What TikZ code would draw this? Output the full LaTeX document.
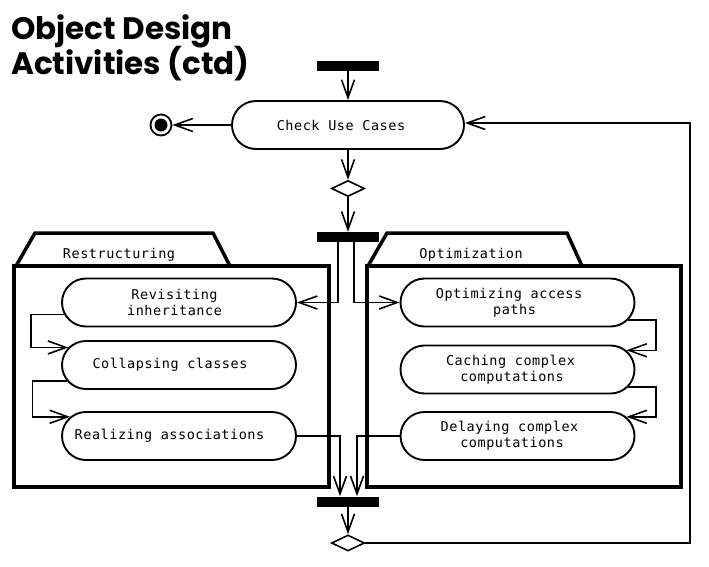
\documentclass[tikz,border=0pt]{standalone}
\usepackage{fontspec}
\setmainfont{DejaVu Sans}
\newfontfamily\titlefont{Poppins}
\newfontfamily\monofont{DejaVu Sans Mono}[LetterSpace=4]
\newcommand{\actfont}{\monofont\fontsize{13.5}{16}\selectfont}
\newcommand{\padr}[1]{\makebox[#1pt]{}}
\usetikzlibrary{shapes.misc,shapes.geometric,arrows.meta}
\begin{document}
\begin{tikzpicture}[x=1pt,y=-1pt,
  act/.style={rounded rectangle, draw, line width=1.9pt, minimum width=234pt, minimum height=48pt, inner sep=0pt, font=\actfont, align=center, fill=white},
  arr/.style={line width=1.6pt, -{Straight Barb[length=18pt,width=13pt,line width=1.6pt]}},
  forkbar/.style={fill=black, minimum width=62pt, minimum height=10pt, inner sep=0pt},
  decision/.style={diamond, draw, line width=1.6pt, minimum width=33pt, minimum height=16pt, inner sep=0pt, fill=white},
  pkg/.style={draw, line width=3.5pt, inner sep=0pt},
  pkgtab/.style={line width=3.5pt, line join=miter},
  pkglabel/.style={font=\actfont, inner sep=0pt},
  titletext/.style={anchor=base west, inner sep=0pt, font=\titlefont\bfseries\fontsize{31}{36}\selectfont}
]
\useasboundingbox (0,0) rectangle (709,566);

% title
\node[titletext] (t1) at (11,39) {Object Design};
\node[titletext] (t2) at (11,74) {Activities (ctd)};

% packages
\node[pkg, minimum width=315pt, minimum height=221pt] (restr) at (171.5,376.5) {};
\draw[pkgtab] (16,266) -- (35,233) -- (213,233) -- (230,266);
\node[pkglabel] (restrlbl) at (119,255) {Restructuring};

\node[pkg, minimum width=314pt, minimum height=221pt] (optpkg) at (524,376.5) {};
\draw[pkgtab] (368,266) -- (387,233) -- (567,233) -- (582,266);
\node[pkglabel] (optlbl) at (471,255) {Optimization};

% main flow
\node[forkbar] (bar1) at (348,65.5) {};
\node[act, minimum width=232pt] (check) at (348,125) {Check Use Cases\padr{14}};
\node[circle, draw, line width=1.8pt, minimum size=21pt, inner sep=0pt,
      path picture={\fill (path picture bounding box.center) circle (6.5pt);}] (final) at (161,125) {};
\node[decision] (d1) at (348,188.5) {};
\node[forkbar] (bar2) at (348,237) {};

% restructuring activities
\node[act] (rev) at (179,302.5) {Revisiting\padr{9}\\inheritance\padr{9}};
\node[act] (col) at (179,365) {Collapsing classes\padr{18}};
\node[act] (real) at (179,436) {Realizing associations\padr{19}};

% optimization activities
\node[act] (opt) at (517.5,302.5) {Optimizing access\padr{17}\\paths\padr{6}};
\node[act] (cach) at (517.5,369.5) {Caching complex\padr{14}\\computations\padr{11}};
\node[act] (del) at (517.5,436) {Delaying complex\padr{16}\\computations\padr{11}};

\node[forkbar] (bar3) at (348,501.5) {};
\node[decision] (d2) at (348,543) {};
\coordinate (loopx) at (690,300);

% connectors
\draw[arr] (bar1.south) -- (check.north);
\draw[arr] (check.west) -- (final);
\draw[arr] (check.south) -- (d1.north);
\draw[arr] (d1.south) -- (bar2.north);
\draw[arr] ([xshift=-10pt]bar2.south) |- (rev.east);
\draw[arr] ([xshift=6pt]bar2.south) |- (opt.west);
\draw[arr] (rev.186) -- ++(-33,0) |- (col.171);
\draw[arr] (col.188) -- ++(-34,0) |- (real.170);
\draw[arr] (opt.-9) -- ++(28,0) |- (cach.10);
\draw[arr] (cach.-9) -- ++(28,0) |- (del.10);
\draw[arr] (real.east) -| ([xshift=-8pt]bar3.north);
\draw[arr] (del.west) -| ([xshift=9pt]bar3.north);
\draw[arr] (bar3.south) -- (d2.north);
\draw[arr] (d2.east) -- (d2.east -| loopx) |- ([yshift=2pt]check.east);
\end{tikzpicture}
\end{document}
